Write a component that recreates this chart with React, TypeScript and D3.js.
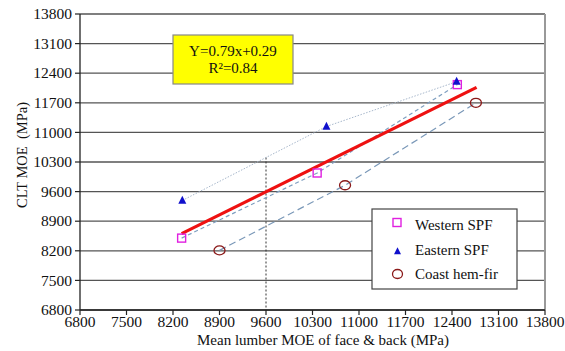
import React from "react";
import * as d3 from "d3";

const xTicks = [6800, 7500, 8200, 8900, 9600, 10300, 11000, 11700, 12400, 13100, 13800];
const yTicks = [6800, 7500, 8200, 8900, 9600, 10300, 11000, 11700, 12400, 13100, 13800];

const westernX = [8330, 10370, 12480];
const westernY = [8500, 10040, 12130];
const easternX = [8340, 10510, 12470];
const easternY = [9390, 11140, 12200];
const coastX = [8900, 10790, 12760];
const coastY = [8210, 9750, 11700];

const fitX = [8330, 12770];
const fitY = [8606, 12065];

const refX = 9600;

const legendLabels = ["Western SPF", "Eastern SPF", "Coast hem-fir"];
const equationLines = ["Y=0.79x+0.29", "R²=0.84"];

const W = 565;
const H = 351;
const M = { left: 80, right: 545, top: 14, bottom: 310 };
const FF = { fontFamily: "'Liberation Serif'" };

export default function App() {
  const x = d3.scaleLinear().domain([6800, 13800]).range([M.left, M.right]);
  const y = d3.scaleLinear().domain([6800, 13800]).range([M.bottom, M.top]);
  const line = d3
    .line<[number, number]>()
    .x((d) => x(d[0]))
    .y((d) => y(d[1]));

  const zip = (a: number[], b: number[]) => a.map((v, i) => [v, b[i]] as [number, number]);
  const west = zip(westernX, westernY);
  const east = zip(easternX, easternY);
  const coast = zip(coastX, coastY);
  const fit = zip(fitX, fitY);

  const eastInterp = d3.scaleLinear().domain(easternX).range(easternY);
  const refTop = eastInterp(refX);

  const tri = (cx: number, cy: number, s: number) =>
    `M${cx},${cy - s * 0.6}L${cx + s / 2},${cy + s * 0.4}L${cx - s / 2},${cy + s * 0.4}Z`;

  const legendRows = [225, 250, 274];

  return (
    <svg width={W} height={H} style={{ position: "absolute", left: 0, top: 0, background: "#fff" }}>
      {yTicks.map((t) => (
        <line key={"g" + t} x1={M.left} x2={M.right} y1={y(t)} y2={y(t)} stroke="#555" strokeWidth={1.3} />
      ))}
      <line x1={M.right} x2={M.right} y1={M.top} y2={M.bottom} stroke="#999" strokeWidth={2} />
      <line x1={M.left} x2={M.left} y1={M.top} y2={M.bottom} stroke="#222" strokeWidth={1.3} />
      <line x1={M.left} x2={M.right} y1={M.bottom} y2={M.bottom} stroke="#222" strokeWidth={1.3} />
      {yTicks.map((t) => (
        <g key={"yt" + t}>
          <line x1={M.left - 5} x2={M.left} y1={y(t)} y2={y(t)} stroke="#222" strokeWidth={1.2} />
          <text x={M.left - 8} y={y(t)} dy="0.34em" textAnchor="end" fontSize={15.5} fill="#111" style={FF}>
            {t}
          </text>
        </g>
      ))}
      {xTicks.map((t) => (
        <g key={"xt" + t}>
          <line x1={x(t)} x2={x(t)} y1={M.bottom} y2={M.bottom + 5} stroke="#222" strokeWidth={1.2} />
          <text x={x(t)} y={M.bottom + 17} textAnchor="middle" fontSize={15.5} fill="#111" style={FF}>
            {t}
          </text>
        </g>
      ))}
      <text x={323} y={345} textAnchor="middle" fontSize={15} fill="#111" style={FF}>
        Mean lumber MOE of face &amp; back (MPa)
      </text>
      <text
        transform={`translate(27,155) rotate(-90)`}
        textAnchor="middle"
        fontSize={14.5}
        fill="#111"
        style={{ ...FF, whiteSpace: "pre" }}
      >
        CLT MOE  (MPa)
      </text>

      <line
        x1={x(refX)}
        x2={x(refX)}
        y1={y(refTop)}
        y2={M.bottom}
        stroke="#333"
        strokeWidth={1}
        strokeDasharray="2,2"
      />

      <path d={line(east) || ""} fill="none" stroke="#a8b8cc" strokeWidth={1} strokeDasharray="1.5,1.5" />
      <path d={line(west) || ""} fill="none" stroke="#7f9fc0" strokeWidth={1.2} strokeDasharray="4,3" />
      <path d={line(coast) || ""} fill="none" stroke="#7a98b8" strokeWidth={1.2} strokeDasharray="7,4" />

      <path d={line(fit) || ""} fill="none" stroke="#ee1111" strokeWidth={3.2} />

      {west.map((d, i) => (
        <rect
          key={"w" + i}
          x={x(d[0]) - 4}
          y={y(d[1]) - 4}
          width={8}
          height={8}
          fill="none"
          stroke="#e020e0"
          strokeWidth={1.4}
        />
      ))}
      {east.map((d, i) => (
        <path key={"e" + i} d={tri(x(d[0]), y(d[1]), 8)} fill="#1010cc" />
      ))}
      {coast.map((d, i) => (
        <ellipse
          key={"c" + i}
          cx={x(d[0])}
          cy={y(d[1])}
          rx={5.5}
          ry={4.5}
          fill="none"
          stroke="#8b1a1a"
          strokeWidth={1.3}
        />
      ))}

      <rect x={173} y={35} width={120} height={49} fill="#ffff00" stroke="#888" strokeWidth={1.2} />
      {equationLines.map((s, i) => (
        <text key={"eq" + i} x={233} y={56 + i * 17} textAnchor="middle" fontSize={15} fill="#111" style={FF}>
          {s}
        </text>
      ))}

      <rect x={372} y={209} width={145} height={80} fill="#fff" stroke="#444" strokeWidth={1.2} />
      <rect x={393} y={218.5} width={8} height={8} fill="none" stroke="#e020e0" strokeWidth={1.4} />
      <path d={tri(397.5, 251.5, 7)} fill="#1010cc" />
      <ellipse cx={397.5} cy={274} rx={5} ry={4.5} fill="none" stroke="#8b1a1a" strokeWidth={1.3} />
      {legendLabels.map((s, i) => (
        <text key={"l" + i} x={415} y={legendRows[i]} dy="0.34em" fontSize={15} fill="#111" style={FF}>
          {s}
        </text>
      ))}
    </svg>
  );
}
